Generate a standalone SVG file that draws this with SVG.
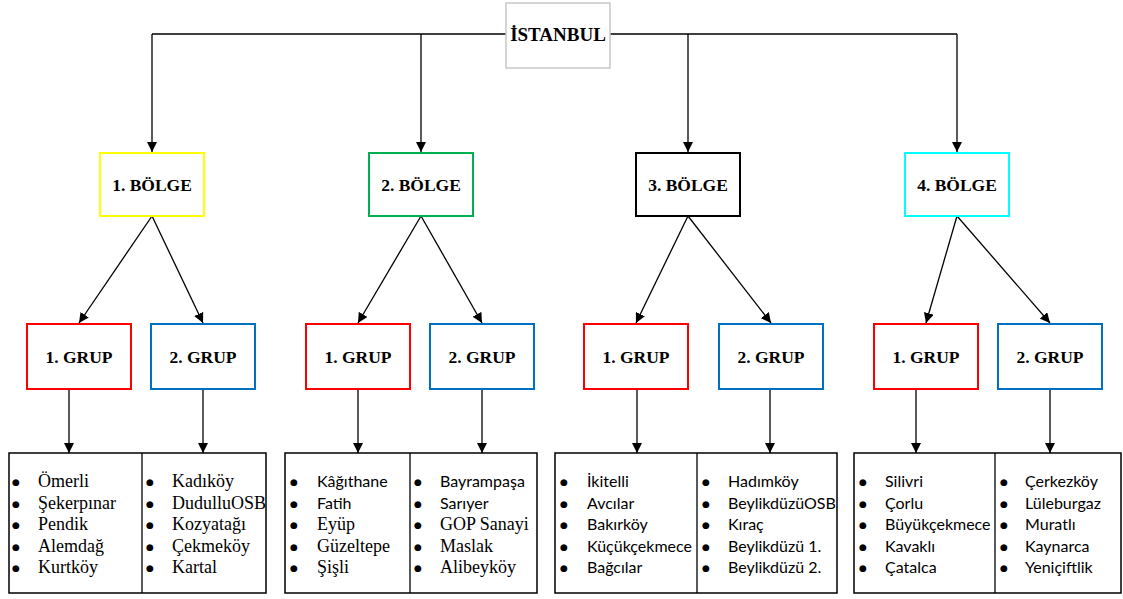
<svg xmlns="http://www.w3.org/2000/svg" width="1123" height="599" viewBox="0 0 1123 599">
<defs>
<marker id="ah" viewBox="0 0 10 10" refX="10" refY="5" markerWidth="10" markerHeight="10" markerUnits="userSpaceOnUse" orient="auto"><path d="M0,0 L10,5 L0,10 Z" fill="#000"/></marker>
</defs>
<style>
.t{font-family:"Liberation Serif","Times New Roman",serif;font-weight:bold;font-size:17.5px;fill:#000;text-anchor:middle}
.box{fill:#fff;stroke-width:2}
.lst{fill:#fff;stroke:#000;stroke-width:1.5}
.s{font-family:"Liberation Serif","Times New Roman",serif;font-size:18px;fill:#000}
.c{font-family:Lato,"Noto Sans",sans-serif;font-size:16px;fill:#000}
.b{font-family:"DejaVu Sans",sans-serif;font-size:9px;fill:#000;text-anchor:middle}
.ln{fill:none;stroke:#000;stroke-width:1.3}
</style>
<rect width="1123" height="599" fill="#fff"/>
<g id="connectors">
<path class="ln" d="M152,34 H957"/>
<path class="ln" d="M152,34 V152" marker-end="url(#ah)"/>
<path class="ln" d="M421,34 V152" marker-end="url(#ah)"/>
<path class="ln" d="M688,34 V152" marker-end="url(#ah)"/>
<path class="ln" d="M957,34 V152" marker-end="url(#ah)"/>
<path class="ln" d="M152,216 L79,323" marker-end="url(#ah)"/>
<path class="ln" d="M152,216 L203,323" marker-end="url(#ah)"/>
<path class="ln" d="M421,216 L358,323" marker-end="url(#ah)"/>
<path class="ln" d="M421,216 L482,323" marker-end="url(#ah)"/>
<path class="ln" d="M688,216 L636,323" marker-end="url(#ah)"/>
<path class="ln" d="M688,216 L771,323" marker-end="url(#ah)"/>
<path class="ln" d="M957,216 L926,323" marker-end="url(#ah)"/>
<path class="ln" d="M957,216 L1050,323" marker-end="url(#ah)"/>
<path class="ln" d="M69,389 V453" marker-end="url(#ah)"/>
<path class="ln" d="M203,389 V453" marker-end="url(#ah)"/>
<path class="ln" d="M358,389 V453" marker-end="url(#ah)"/>
<path class="ln" d="M482,389 V453" marker-end="url(#ah)"/>
<path class="ln" d="M637,389 V453" marker-end="url(#ah)"/>
<path class="ln" d="M770,389 V453" marker-end="url(#ah)"/>
<path class="ln" d="M916,389 V453" marker-end="url(#ah)"/>
<path class="ln" d="M1050,389 V453" marker-end="url(#ah)"/>
</g>
<g id="istanbul"><rect x="506" y="3" width="104" height="65" fill="#fff" stroke="#c8c8c8" stroke-width="1.5"/><text class="t" x="558" y="41" style="font-size:19px">İSTANBUL</text></g>
<g id="bolge1"><rect class="box" x="100" y="153" width="104" height="63" stroke="#ffff00"/><text class="t" x="152" y="191">1. BÖLGE</text></g>
<g id="bolge2"><rect class="box" x="369" y="153" width="104" height="63" stroke="#00b050"/><text class="t" x="421" y="191">2. BÖLGE</text></g>
<g id="bolge3"><rect class="box" x="636" y="153" width="104" height="63" stroke="#000"/><text class="t" x="688" y="191">3. BÖLGE</text></g>
<g id="bolge4"><rect class="box" x="905" y="153" width="104" height="63" stroke="#00ffff"/><text class="t" x="957" y="191">4. BÖLGE</text></g>
<g id="b1g1"><rect class="box" x="27" y="324" width="104" height="65" stroke="#ff0000"/><text class="t" x="79" y="363">1. GRUP</text></g>
<g id="b1g2"><rect class="box" x="151" y="324" width="104" height="65" stroke="#0070c0"/><text class="t" x="203" y="363">2. GRUP</text></g>
<g id="b2g1"><rect class="box" x="306" y="324" width="104" height="65" stroke="#ff0000"/><text class="t" x="358" y="363">1. GRUP</text></g>
<g id="b2g2"><rect class="box" x="430" y="324" width="104" height="65" stroke="#0070c0"/><text class="t" x="482" y="363">2. GRUP</text></g>
<g id="b3g1"><rect class="box" x="584" y="324" width="104" height="65" stroke="#ff0000"/><text class="t" x="636" y="363">1. GRUP</text></g>
<g id="b3g2"><rect class="box" x="719" y="324" width="104" height="65" stroke="#0070c0"/><text class="t" x="771" y="363">2. GRUP</text></g>
<g id="b4g1"><rect class="box" x="874" y="324" width="104" height="65" stroke="#ff0000"/><text class="t" x="926" y="363">1. GRUP</text></g>
<g id="b4g2"><rect class="box" x="998" y="324" width="104" height="65" stroke="#0070c0"/><text class="t" x="1050" y="363">2. GRUP</text></g>
<g id="list1">
<rect class="lst" x="9" y="453" width="257" height="140"/><path class="ln" d="M142,453 V593"/>
<text class="b" x="16" y="485">●</text><text class="b" x="16" y="506.5">●</text><text class="b" x="16" y="528">●</text><text class="b" x="16" y="549.5">●</text><text class="b" x="16" y="571">●</text>
<text class="s" x="38" y="487">Ömerli</text><text class="s" x="38" y="508.5">Şekerpınar</text><text class="s" x="38" y="530">Pendik</text><text class="s" x="38" y="551.5">Alemdağ</text><text class="s" x="38" y="573">Kurtköy</text>
<text class="b" x="150" y="485">●</text><text class="b" x="150" y="506.5">●</text><text class="b" x="150" y="528">●</text><text class="b" x="150" y="549.5">●</text><text class="b" x="150" y="571">●</text>
<text class="s" x="172" y="487">Kadıköy</text><text class="s" x="172" y="508.5">DudulluOSB</text><text class="s" x="172" y="530">Kozyatağı</text><text class="s" x="172" y="551.5">Çekmeköy</text><text class="s" x="172" y="573">Kartal</text>
</g>
<g id="list2">
<rect class="lst" x="285" y="453" width="252" height="140"/><path class="ln" d="M410,453 V593"/>
<text class="b" x="294" y="485">●</text><text class="b" x="294" y="506.5">●</text><text class="b" x="294" y="528">●</text><text class="b" x="294" y="549.5">●</text><text class="b" x="294" y="571">●</text>
<text class="c" x="317" y="487">Kâğıthane</text><text class="c" x="317" y="508.5">Fatih</text><text class="s" x="317" y="530">Eyüp</text><text class="s" x="317" y="551.5">Güzeltepe</text><text class="s" x="317" y="573">Şişli</text>
<text class="b" x="418" y="485">●</text><text class="b" x="418" y="506.5">●</text><text class="b" x="418" y="528">●</text><text class="b" x="418" y="549.5">●</text><text class="b" x="418" y="571">●</text>
<text class="c" x="440" y="487">Bayrampaşa</text><text class="c" x="440" y="508.5">Sarıyer</text><text class="s" x="440" y="530">GOP Sanayi</text><text class="s" x="440" y="551.5">Maslak</text><text class="s" x="440" y="573">Alibeyköy</text>
</g>
<g id="list3">
<rect class="lst" x="555" y="453" width="282" height="140"/><path class="ln" d="M697,453 V593"/>
<text class="b" x="564" y="485">●</text><text class="b" x="564" y="506.5">●</text><text class="b" x="564" y="528">●</text><text class="b" x="564" y="549.5">●</text><text class="b" x="564" y="571">●</text>
<text class="c" x="587" y="487">İkitelli</text><text class="c" x="587" y="508.5">Avcılar</text><text class="c" x="587" y="530">Bakırköy</text><text class="c" x="587" y="551.5">Küçükçekmece</text><text class="c" x="587" y="573">Bağcılar</text>
<text class="b" x="706" y="485">●</text><text class="b" x="706" y="506.5">●</text><text class="b" x="706" y="528">●</text><text class="b" x="706" y="549.5">●</text><text class="b" x="706" y="571">●</text>
<text class="c" x="728" y="487">Hadımköy</text><text class="c" x="728" y="508.5">BeylikdüzüOSB</text><text class="c" x="728" y="530">Kıraç</text><text class="c" x="728" y="551.5">Beylikdüzü 1.</text><text class="c" x="728" y="573">Beylikdüzü 2.</text>
</g>
<g id="list4">
<rect class="lst" x="854" y="453" width="267" height="140"/><path class="ln" d="M995,453 V593"/>
<text class="b" x="863" y="485">●</text><text class="b" x="863" y="506.5">●</text><text class="b" x="863" y="528">●</text><text class="b" x="863" y="549.5">●</text><text class="b" x="863" y="571">●</text>
<text class="c" x="885" y="487">Silivri</text><text class="c" x="885" y="508.5">Çorlu</text><text class="c" x="885" y="530">Büyükçekmece</text><text class="c" x="885" y="551.5">Kavaklı</text><text class="c" x="885" y="573">Çatalca</text>
<text class="b" x="1004" y="485">●</text><text class="b" x="1004" y="506.5">●</text><text class="b" x="1004" y="528">●</text><text class="b" x="1004" y="549.5">●</text><text class="b" x="1004" y="571">●</text>
<text class="c" x="1025" y="487">Çerkezköy</text><text class="c" x="1025" y="508.5">Lüleburgaz</text><text class="c" x="1025" y="530">Muratlı</text><text class="c" x="1025" y="551.5">Kaynarca</text><text class="c" x="1025" y="573">Yeniçiftlik</text>
</g>
</svg>
